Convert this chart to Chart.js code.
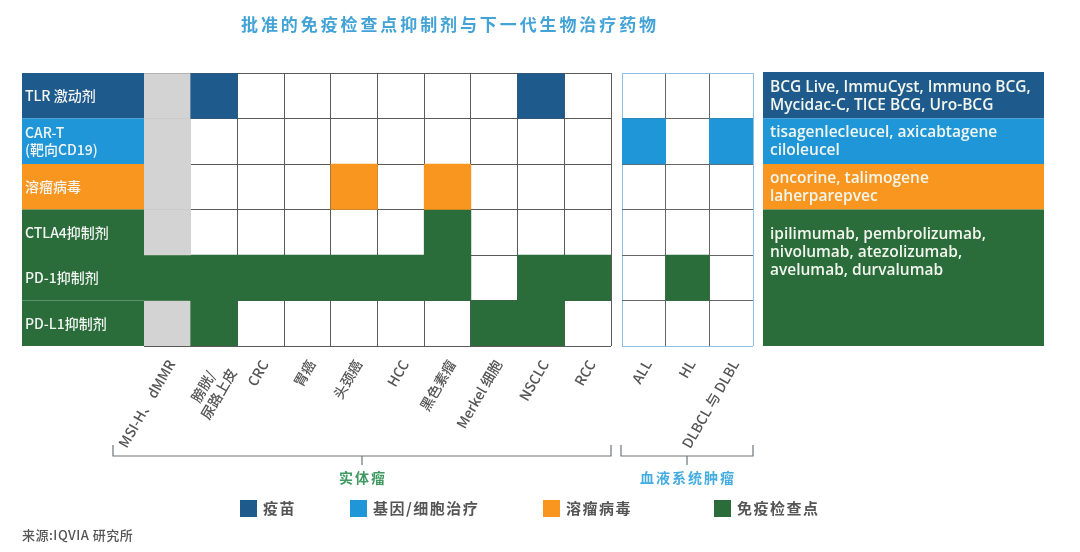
<!DOCTYPE html>
<html>
<head>
<meta charset="utf-8">
<style>
  html, body { margin: 0; padding: 0; background: #fff; }
  #wrap { position: relative; width: 1080px; height: 552px; overflow: hidden; }
  canvas { position: absolute; left: 0; top: 0; }
</style>
<script src="https://cdn.jsdelivr.net/npm/chart.js@4"></script>
</head>
<body>
<div id="wrap">
  <canvas id="solidChart" width="1080" height="552"></canvas>
  <canvas id="bloodChart" width="1080" height="552"></canvas>
</div>
<script>
// categories
const chartTitle = '批准的免疫检查点抑制剂与下一代生物治疗药物';
const solidTumours = ['MSI-H、 dMMR', ['膀胱/    ', '尿路上皮'], 'CRC', '胃癌', '头颈癌', 'HCC', '黑色素瘤', 'Merkel 细胞', 'NSCLC', 'RCC'];
const bloodTumours = ['ALL', 'HL', 'DLBCL 与 DLBL'];
const therapyRows = ['TLR 激动剂', ['CAR-T', '(靶向CD19)'], '溶瘤病毒', 'CTLA4抑制剂', 'PD-1抑制剂', 'PD-L1抑制剂'];

// 0 = empty, 1 = approved, 2 = greyed out
const tlrSolid   = [2, 1, 0, 0, 0, 0, 0, 0, 1, 0];
const carSolid   = [2, 0, 0, 0, 0, 0, 0, 0, 0, 0];
const virusSolid = [2, 0, 0, 0, 1, 0, 1, 0, 0, 0];
const ctlaSolid  = [2, 0, 0, 0, 0, 0, 1, 0, 0, 0];
const pd1Solid   = [1, 1, 1, 1, 1, 1, 1, 0, 1, 1];
const pdl1Solid  = [2, 1, 0, 0, 0, 0, 0, 1, 1, 0];

const tlrBlood   = [0, 0, 0];
const carBlood   = [1, 0, 1];
const virusBlood = [0, 0, 0];
const ctlaBlood  = [0, 0, 0];
const pd1Blood   = [0, 1, 0];
const pdl1Blood  = [0, 0, 0];

const tlrDrugs   = ['BCG Live, ImmuCyst, Immuno BCG,', 'Mycidac-C, TICE BCG, Uro-BCG'];
const carDrugs   = ['tisagenlecleucel, axicabtagene', 'ciloleucel'];
const virusDrugs = ['oncorine, talimogene', 'laherparepvec'];
const checkDrugs = ['ipilimumab, pembrolizumab,', 'nivolumab, atezolizumab,', 'avelumab, durvalumab'];

const legendLabels = ['疫苗', '基因/细胞治疗', '溶瘤病毒', '免疫检查点'];

const NAVY = '#1f5a8c', BLUE = '#1f96d8', ORANGE = '#f8961f', GREEN = '#2a6d3a', GREY = '#d3d3d3';
const rowColors = [NAVY, BLUE, ORANGE, GREEN, GREEN, GREEN];
const CJK = '"Noto Sans CJK SC", "Open Sans", sans-serif';
const LATIN = '"Open Sans", "Noto Sans CJK SC", sans-serif';

function buildDatasets(rows){
  return rows.map((row, r)=>({
    label: 'row' + r,
    data: row.map(v=> v ? [r, r + 1] : null),
    backgroundColor: row.map(v=> v === 2 ? GREY : rowColors[r]),
    barPercentage: 1,
    categoryPercentage: 1,
    grouped: false
  }));
}

function yAxis(showLabels, edgeColor, lineColor){
  return {
    reverse: true, min: 0, max: 6,
    afterFit: s=>{ s.width = showLabels ? 119 : 0; },
    border: { display: false },
    grid: {
      drawTicks: false,
      color: c=>{
        const v = c.tick ? c.tick.value : 0;
        if (v % 1) return 'rgba(0,0,0,0)';
        return (v === 0 || v === 6) ? edgeColor : lineColor;
      }
    },
    ticks: {
      display: showLabels,
      stepSize: 0.5,
      autoSkip: false,
      crossAlign: 'far',
      padding: 0,
      color: '#f2f5f2',
      font: { family: CJK, size: 14, weight: '500' },
      callback: v=> v % 1 ? therapyRows[Math.floor(v)] : ''
    }
  };
}

function xAxis(edgeColor, lineColor){
  return {
    afterFit: s=>{ s.height = 206; },
    border: { display: false },
    grid: {
      drawTicks: false,
      offset: true,
      color: c=> (!c.tick || c.index === 0) ? edgeColor : lineColor
    },
    ticks: {
      minRotation: 60, maxRotation: 60,
      autoSkip: false,
      padding: 11,
      labelOffset: 4,
      color: '#555',
      font: { family: CJK, size: 14, weight: '500' }
    }
  };
}

function spaced(ctx, text, x, y, font, color, align, spacing){
  ctx.font = font;
  ctx.fillStyle = color;
  ctx.textAlign = align || 'left';
  ctx.textBaseline = 'middle';
  ctx.letterSpacing = (spacing || 0) + 'px';
  ctx.fillText(text, x, y);
  ctx.letterSpacing = '0px';
}

function bracket(ctx, left, right, stemX){
  ctx.strokeStyle = '#6f7478';
  ctx.lineWidth = 1.2;
  ctx.beginPath();
  ctx.moveTo(left, 445); ctx.lineTo(left, 456); ctx.lineTo(right, 456); ctx.lineTo(right, 445);
  ctx.moveTo(stemX, 456); ctx.lineTo(stemX, 465);
  ctx.stroke();
}

// Row labels, drug panel, title, brackets and legend drawn around the grid
const furniture = {
  id: 'furniture',
  beforeDraw(chart){
    const ctx = chart.ctx, y = chart.scales.y;
    ctx.save();
    rowColors.forEach((col, r)=>{
      ctx.fillStyle = col;
      ctx.fillRect(22, y.getPixelForValue(r), 122, y.getPixelForValue(r + 1) - y.getPixelForValue(r));
    });

    const panel = [[0, 1, NAVY, tlrDrugs], [1, 2, BLUE, carDrugs], [2, 3, ORANGE, virusDrugs], [3, 6, GREEN, checkDrugs]];
    panel.forEach(([from, to, col, lines])=>{
      const top = y.getPixelForValue(from), bottom = y.getPixelForValue(to);
      ctx.fillStyle = col;
      ctx.fillRect(763, top - (from ? 0 : 1), 281, bottom - top + (from ? 0 : 1));
      const first = from === 3 ? top + 25 : top + 14.5;
      lines.forEach((t, i)=> spaced(ctx, t, 770, first + i * 18, '600 15.5px ' + LATIN, '#f2f6ee'));
    });

    spaced(ctx, chartTitle, 450, 25, '600 17px ' + CJK, '#43a3d6', 'center', 2.9);

    bracket(ctx, 113, 611, 362);
    bracket(ctx, 621, 753, 687);
    spaced(ctx, '实体瘤', 363, 478, 'bold 14px ' + CJK, '#3f9a62', 'center', 2);
    spaced(ctx, '血液系统肿瘤', 688, 478, 'bold 14px ' + CJK, '#43ace0', 'center', 2);

    const legendCols = [NAVY, BLUE, ORANGE, GREEN];
    const legendBox = [240, 350, 543, 714];
    legendLabels.forEach((t, i)=>{
      ctx.fillStyle = legendCols[i];
      ctx.fillRect(legendBox[i], 500, 17, 17);
      spaced(ctx, t, legendBox[i] + 23, 508, 'bold 15px ' + CJK, '#555', 'left', 1.5);
    });

    spaced(ctx, '来源:IQVIA 研究所', 22, 535, '500 13px ' + CJK, '#555', 'left', 0.5);
    ctx.restore();
  }
};

const baseOptions = {
  responsive: false,
  animation: false,
  devicePixelRatio: 1,
  plugins: { legend: { display: false }, tooltip: { enabled: false } }
};

new Chart(document.getElementById('solidChart'), {
  type: 'bar',
  data: {
    labels: solidTumours,
    datasets: buildDatasets([tlrSolid, carSolid, virusSolid, ctlaSolid, pd1Solid, pdl1Solid])
  },
  options: Object.assign({}, baseOptions, {
    layout: { padding: { left: 25, top: 73, right: 469, bottom: 0 } },
    scales: { x: xAxis('#5a5a5a', '#5a5a5a'), y: yAxis(true, '#5a5a5a', '#5a5a5a') }
  }),
  plugins: [furniture]
});

new Chart(document.getElementById('bloodChart'), {
  type: 'bar',
  data: {
    labels: bloodTumours,
    datasets: buildDatasets([tlrBlood, carBlood, virusBlood, ctlaBlood, pd1Blood, pdl1Blood])
  },
  options: Object.assign({}, baseOptions, {
    layout: { padding: { left: 622, top: 73, right: 327, bottom: 0 } },
    scales: { x: xAxis('#8fbfe0', '#666'), y: yAxis(false, '#8fbfe0', '#666') }
  })
});
</script>
</body>
</html>
